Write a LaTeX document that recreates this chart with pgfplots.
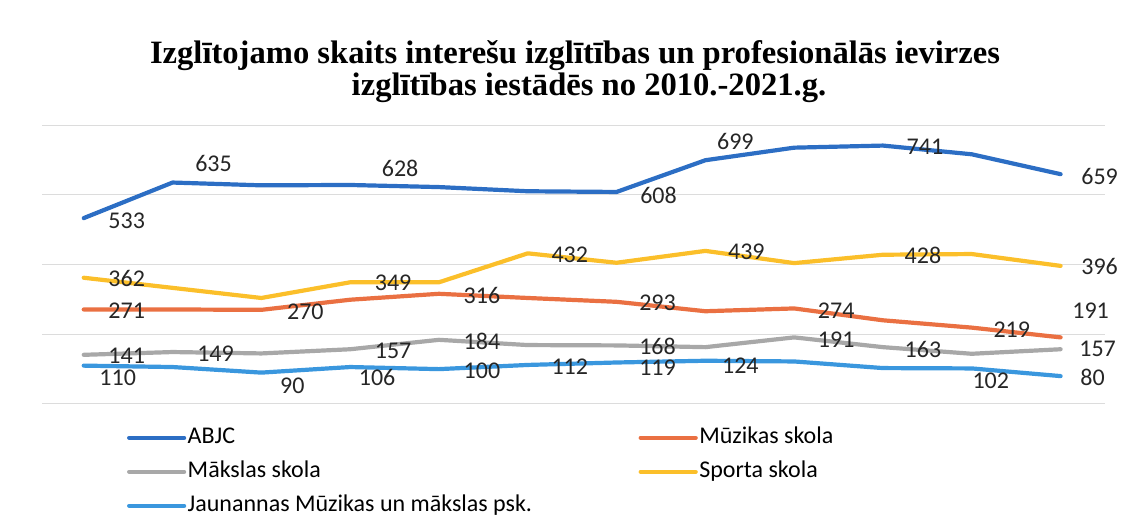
\documentclass[border=0pt]{standalone}
\usepackage{pgfplots}
\pgfplotsset{compat=1.18}
\usepackage{pgfplotstable}
\usepackage{fontspec}
\setmainfont{Carlito}
\newfontfamily\titlefont{Liberation Serif}

\definecolor{cABJC}{HTML}{2C6EC4}
\definecolor{cMuz}{HTML}{EA7042}
\definecolor{cMaks}{HTML}{A8A8A8}
\definecolor{cSport}{HTML}{FBBF2A}
\definecolor{cJaun}{HTML}{3A97DE}
\definecolor{cLab}{HTML}{262626}
\definecolor{cGrid}{HTML}{DCDCDC}

% line data: year index, value
\pgfplotstableread{
x y
0 533
1 635
2 627
3 628
4 622
5 610
6 608
7 699
8 735
9 741
10 716
11 659
}\abjc
\pgfplotstableread{
x y
0 271
1 271
2 270
3 299
4 316
5 304
6 293
7 266
8 274
9 240
10 219
11 191
}\muz
\pgfplotstableread{
x y
0 141
1 149
2 145
3 157
4 184
5 169
6 168
7 163
8 191
9 163
10 144
11 157
}\maks
\pgfplotstableread{
x y
0 362
1 333
2 304
3 349
4 349
5 432
6 405
7 439
8 404
9 428
10 430
11 396
}\sport
\pgfplotstableread{
x y
0 110
1 106
2 90
3 106
4 100
5 112
6 119
7 124
8 122
9 103
10 102
11 80
}\jaun

% labelled points with label offsets (bp)
\pgfplotstableread{
x y dx dy
0 533 43 -3
1 635 41 19
3 628 50 17
6 608 42 -3
7 699 30 19
9 741 42 -1
11 659 39 -2
}\abjclab
\pgfplotstableread{
x y dx dy
0 271 43 -1
2 270 44 -2
4 316 43 -2
6 293 41 -1
8 274 42 -2
10 219 40 -2
11 191 30 27
}\muzlab
\pgfplotstableread{
x y dx dy
0 141 43 -1
1 149 43 -2
3 157 43 -2
4 184 43 -2
6 168 41 -1
8 191 42 -2
9 163 40 -2
11 157 37 0
}\makslab
\pgfplotstableread{
x y dx dy
0 362 43 -1
3 349 43 -1
5 432 42 -1
7 439 41 -1
9 428 40 -1
11 396 39 -1
}\sportlab
\pgfplotstableread{
x y dx dy
0 110 34 -12
2 90 31 -13
3 106 27 -10
4 100 43 -2
5 112 42 -2
6 119 41 -5
7 124 35 -5
10 102 19 -12
11 80 32 -1
}\jaunlab

\begin{document}
\begin{tikzpicture}
\begin{axis}[
  at={(42bp,120bp)}, anchor=south west,
  scale only axis, width=1063bp, height=279bp,
  xmin=-0.47, xmax=11.5, ymin=0, ymax=800,
  xtick=\empty, ytick={0,200,400,600,800}, yticklabels={},
  major tick length=0pt,
  ymajorgrids, grid style={cGrid, line width=1bp},
  axis line style={draw=none},
  clip=false,
  /pgf/number format/assume math mode=true,
  legend style={
    at={(axis description cs:0.08,-0.078)}, anchor=north west,
    draw=none, fill=none, inner sep=0pt, outer sep=0pt,
    font=\fontsize{24bp}{28bp}\selectfont,
    /tikz/every even column/.append style={column sep=105bp},
    row sep=10bp,
    nodes={inner sep=1.5bp, text height=16bp, text depth=5bp, text=black},
  },
  legend columns=2,
  legend cell align=left,
  legend image code/.code={\draw[#1, line width=4.2bp, line cap=round] (0bp,0bp) -- (55bp,0bp);},
  every axis plot/.append style={line width=4.2bp, line join=round, line cap=round, mark=none},
]
\addplot[cABJC] table[x=x,y=y] {\abjc};
\addlegendentry{ABJC}
\addplot[cMuz] table[x=x,y=y] {\muz};
\addlegendentry{Mūzikas skola}
\addplot[cMaks] table[x=x,y=y] {\maks};
\addlegendentry{Mākslas skola}
\addplot[cSport] table[x=x,y=y] {\sport};
\addlegendentry{Sporta skola}
\addplot[cJaun] table[x=x,y=y] {\jaun};
\addlegendentry{Jaunannas Mūzikas un mākslas psk.}

\pgfplotsset{labelplot/.style={
  draw=none, forget plot, mark=none,
  point meta=y,
  nodes near coords,
  visualization depends on={\thisrow{dx}\as\ldx},
  visualization depends on={\thisrow{dy}\as\ldy},
  nodes near coords style={anchor=center, inner sep=0pt,
    xshift=\ldx bp, yshift=\ldy bp, text=cLab,
    font=\fontsize{24bp}{28bp}\selectfont},
}}
\addplot[labelplot] table[x=x,y=y] {\abjclab};
\addplot[labelplot] table[x=x,y=y] {\muzlab};
\addplot[labelplot] table[x=x,y=y] {\makslab};
\addplot[labelplot] table[x=x,y=y] {\sportlab};
\addplot[labelplot] table[x=x,y=y] {\jaunlab};
\end{axis}
\node[anchor=base, font=\titlefont\bfseries\fontsize{32.6bp}{36bp}\selectfont]
  at (575bp,460.7bp) {Izglītojamo skaits interešu izglītības un profesionālās ievirzes};
\node[anchor=base, font=\titlefont\bfseries\fontsize{32.6bp}{36bp}\selectfont]
  at (589bp,428bp) {izglītības iestādēs no 2010.-2021.g.};
\pgfresetboundingbox
\path[use as bounding box] (0,0) rectangle (1121bp,524bp);
\end{tikzpicture}
\end{document}
